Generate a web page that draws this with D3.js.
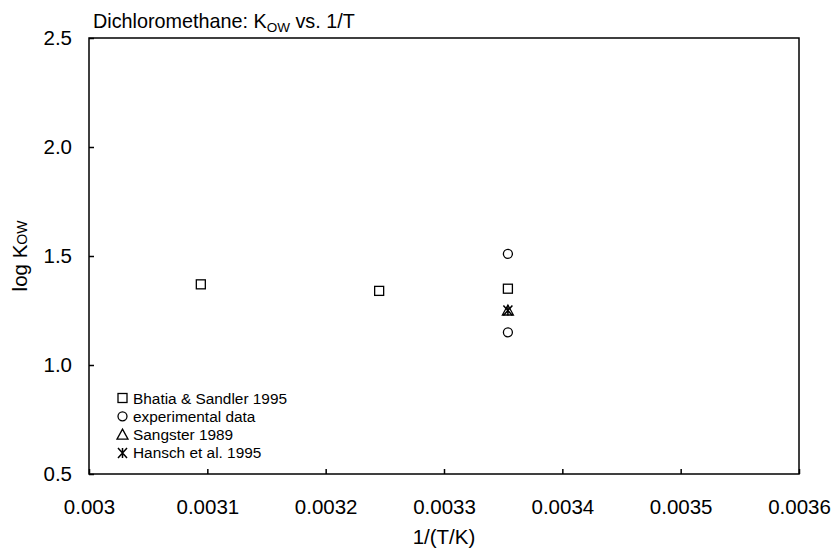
<!DOCTYPE html>
<html>
<head>
<meta charset="utf-8">
<script src="https://cdn.jsdelivr.net/npm/d3@7"></script>
<style>
  body { margin: 0; background: #fff; }
  svg { font-family: "Liberation Sans", Arial, sans-serif; }
</style>
</head>
<body>
<div id="chart"></div>
<script>
// data
var bhatia = [
    { x: 0.0030945, y: 1.37 },
    { x: 0.0032452, y: 1.34 },
    { x: 0.0033540, y: 1.35 }
]
var experimental = [
    { x: 0.0033540, y: 1.51 },
    { x: 0.0033540, y: 1.15 }
]
var sangster = [
    { x: 0.0033540, y: 1.25 }
]
var hansch = [
    { x: 0.0033540, y: 1.25 }
]

var xTicks = [0.003, 0.0031, 0.0032, 0.0033, 0.0034, 0.0035, 0.0036]
var xTickLabels = ["0.003", "0.0031", "0.0032", "0.0033", "0.0034", "0.0035", "0.0036"]
var yTicks = [0.5, 1.0, 1.5, 2.0, 2.5]
var yTickLabels = ["0.5", "1.0", "1.5", "2.0", "2.5"]

var legendNames = ["Bhatia & Sandler 1995", "experimental data", "Sangster 1989", "Hansch et al. 1995"]
var legendShapes = ["square", "circle", "triangle", "asterisk"]

const W = 836, H = 552
const plot = { left: 89, right: 799, top: 38, bottom: 474 }

const x = d3.scaleLinear()
    .domain([0.003, 0.0036])
    .range([plot.left, plot.right])
const y = d3.scaleLinear()
    .domain([0.5, 2.5])
    .range([plot.bottom, plot.top])

var svg = d3.select("#chart")
    .append("svg")
    .attr("width", W)
    .attr("height", H)

// x axis, ticks pointing inward
var xAxis = svg.append("g")
    .attr("transform", `translate(0,${plot.bottom})`)
    .call(d3.axisBottom(x)
        .tickValues(xTicks)
        .tickFormat((d, i) => xTickLabels[i])
        .tickSize(-5)
        .tickPadding(25))
xAxis.select(".domain").remove()
xAxis.selectAll("line").attr("stroke", "#000").attr("stroke-width", 1.5)
xAxis.selectAll("text").attr("font-size", 20.5).attr("fill", "#000")

var yAxis = svg.append("g")
    .attr("transform", `translate(${plot.left},0)`)
    .call(d3.axisLeft(y)
        .tickValues(yTicks)
        .tickFormat((d, i) => yTickLabels[i])
        .tickSize(-5)
        .tickPadding(17))
yAxis.select(".domain").remove()
yAxis.selectAll("line").attr("stroke", "#000").attr("stroke-width", 1.5)
yAxis.selectAll("text").attr("font-size", 20.5).attr("fill", "#000")

// frame
svg.append("rect")
    .attr("x", plot.left)
    .attr("y", plot.top)
    .attr("width", plot.right - plot.left)
    .attr("height", plot.bottom - plot.top)
    .attr("fill", "none")
    .attr("stroke", "#000")
    .attr("stroke-width", 1.5)

// marker drawing
function drawMarker(g, shape, cx, cy) {
    if (shape == "square") {
        g.append("rect")
            .attr("x", cx - 4.5).attr("y", cy - 4.5)
            .attr("width", 9).attr("height", 9)
            .attr("fill", "none").attr("stroke", "#000").attr("stroke-width", 1.3)
    } else if (shape == "circle") {
        g.append("circle")
            .attr("cx", cx).attr("cy", cy).attr("r", 4.5)
            .attr("fill", "none").attr("stroke", "#000").attr("stroke-width", 1.3)
    } else if (shape == "triangle") {
        g.append("path")
            .attr("d", `M${cx},${cy - 5.5}L${cx + 5.5},${cy + 4.5}L${cx - 5.5},${cy + 4.5}Z`)
            .attr("fill", "none").attr("stroke", "#000").attr("stroke-width", 1.3)
    } else {
        g.append("path")
            .attr("d", `M${cx - 4.5},${cy - 5}L${cx + 4.5},${cy + 5}M${cx + 4.5},${cy - 5}L${cx - 4.5},${cy + 5}M${cx},${cy - 5}L${cx},${cy + 5}`)
            .attr("fill", "none").attr("stroke", "#000").attr("stroke-width", 1.5)
    }
}

var marks = svg.append("g")
var series = [bhatia, experimental, sangster, hansch]
series.forEach(function (s, i) {
    s.forEach(function (d) {
        drawMarker(marks, legendShapes[i], x(d.x), y(d.y))
    })
})

// legend
var legend = svg.append("g")
legendNames.forEach(function (name, i) {
    var ly = 398 + i * 18.3
    drawMarker(legend, legendShapes[i], 122.5, ly)
    legend.append("text")
        .attr("x", 133)
        .attr("y", ly + 5.5)
        .attr("font-size", 15.4)
        .text(name)
})

// title
var title = svg.append("text")
    .attr("x", 93)
    .attr("y", 28)
    .attr("font-size", 19.8)
title.append("tspan").text("Dichloromethane: K")
title.append("tspan").attr("font-size", 13.5).attr("dy", 4).text("OW")
title.append("tspan").attr("dy", -4).text(" vs. 1/T")

// axis titles
svg.append("text")
    .attr("x", (plot.left + plot.right) / 2)
    .attr("y", 544)
    .attr("text-anchor", "middle")
    .attr("font-size", 20.5)
    .text("1/(T/K)")

var yTitle = svg.append("text")
    .attr("transform", `translate(27,${(plot.top + plot.bottom) / 2}) rotate(-90)`)
    .attr("text-anchor", "middle")
    .attr("font-size", 20.5)
yTitle.append("tspan").text("log K")
yTitle.append("tspan").attr("font-size", 14).attr("dy", 0).text("OW")
</script>
</body>
</html>
